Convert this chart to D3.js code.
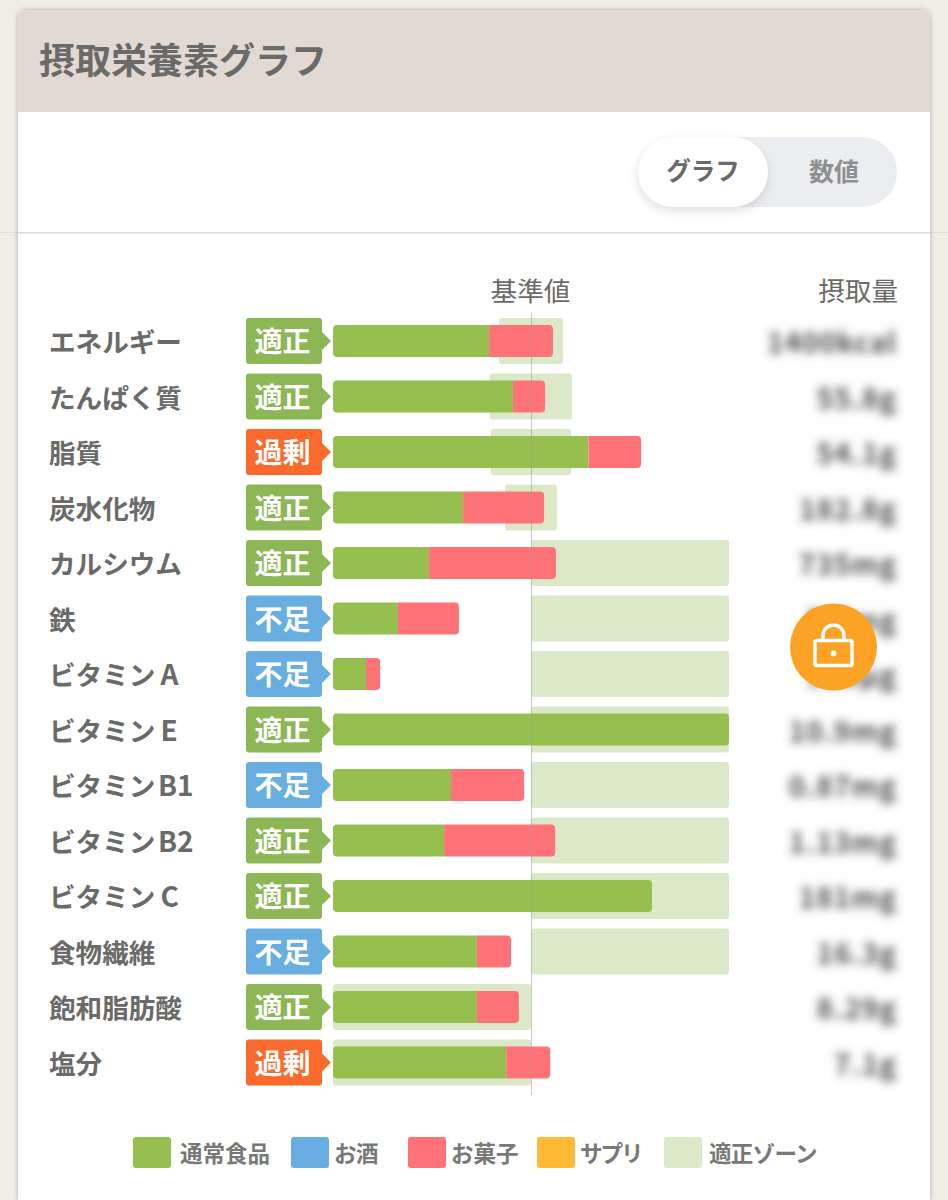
<!DOCTYPE html>
<html lang="ja"><head><meta charset="utf-8">
<script src="https://cdn.jsdelivr.net/npm/d3@7/dist/d3.min.js"></script>
<style>
html,body{margin:0;padding:0;background:#f0ede5;width:948px;height:1200px;overflow:hidden}
svg{display:block}
text{font-family:"Noto Sans CJK JP","Noto Sans",sans-serif}
</style></head><body><div id="chart"></div>
<script>
const nutrients=["エネルギー","たんぱく質","脂質","炭水化物","カルシウム","鉄","ビタミンA","ビタミンE","ビタミンB1","ビタミンB2","ビタミンC","食物繊維","飽和脂肪酸","塩分"];
const statuses=["適正","適正","過剰","適正","適正","不足","不足","適正","不足","適正","適正","不足","適正","過剰"];
const normalFood=[78.8,90.9,129.0,65.7,48.5,32.8,16.7,200,59.6,56.1,161.1,72.7,72.7,87.5];
const snacks=[32.3,16.2,26.6,40.9,64.1,30.8,7.1,0,36.9,56.1,0,17.2,21.2,22.2];
const zoneStart=[83.8,79.2,79.7,86.9,100,100,100,100,100,100,100,100,0,0];
const zoneEnd=[116.2,120.7,120.2,113.1,200,200,200,200,200,200,200,200,100,100];
const intake=["1400kcal","55.8g","54.1g","182.8g","735mg","5.2mg","340μg","10.9mg","0.87mg","1.13mg","181mg","16.3g","8.29g","7.1g"];
const legendLabels=["通常食品","お酒","お菓子","サプリ","適正ゾーン"];
const legendColors=["#95bf4f","#68aee0","#ff7378","#ffb935","#dce9c9"];
const statusColors={"適正":"#8db654","過剰":"#fa6a2c","不足":"#68aee0"};

const W=948,H=1200;
const svg=d3.select("#chart").append("svg").attr("width",W).attr("height",H);
const defs=svg.append("defs");
defs.append("filter").attr("id","blur").attr("x","-20%").attr("y","-60%").attr("width","140%").attr("height","220%")
  .append("feGaussianBlur").attr("stdDeviation",4.8);
const sh=defs.append("filter").attr("id","cardShadow").attr("x","-5%").attr("y","-5%").attr("width","110%").attr("height","110%");
sh.append("feDropShadow").attr("dx",0).attr("dy",0).attr("stdDeviation",2.5).attr("flood-color","#000").attr("flood-opacity",.28);
const ps=defs.append("filter").attr("id","pillShadow").attr("x","-20%").attr("y","-30%").attr("width","140%").attr("height","170%");
ps.append("feDropShadow").attr("dx",0).attr("dy",4).attr("stdDeviation",5).attr("flood-color","#000").attr("flood-opacity",.13);

const ink="#6a6a68";
// page divider, card, header
svg.append("rect").attr("x",0).attr("y",232).attr("width",W).attr("height",1).attr("fill","#e2e0da");
svg.append("path").attr("d","M18,1200V18a8,8 0 0 1 8,-8H922a8,8 0 0 1 8,8V1200Z").attr("fill","#fff").attr("filter","url(#cardShadow)");
svg.append("path").attr("d","M18,112V18a8,8 0 0 1 8,-8H922a8,8 0 0 1 8,8V112Z").attr("fill","#e3d9d3");
svg.append("rect").attr("x",18).attr("y",232).attr("width",912).attr("height",1.5).attr("fill","#dcdcdc");
svg.append("text").attr("x",39).attr("y",74).attr("font-size",36).attr("font-weight",700).attr("fill",ink).text("摂取栄養素グラフ");

// toggle
svg.append("rect").attr("x",638).attr("y",137).attr("width",259).attr("height",70).attr("rx",35).attr("fill","#ecedf0");
svg.append("rect").attr("x",638).attr("y",137).attr("width",130).attr("height",70).attr("rx",35).attr("fill","#fff").attr("filter","url(#pillShadow)");
svg.append("text").attr("x",703).attr("y",180).attr("text-anchor","middle").attr("font-size",24.5).attr("font-weight",700).attr("fill",ink).text("グラフ");
svg.append("text").attr("x",834).attr("y",181).attr("text-anchor","middle").attr("font-size",25).attr("font-weight",700).attr("fill","#8f8f91").text("数値");

// column headings
svg.append("text").attr("x",530.5).attr("y",301).attr("text-anchor","middle").attr("font-size",26.6).attr("fill",ink).text("基準値");
svg.append("text").attr("x",898).attr("y",301).attr("text-anchor","end").attr("font-size",26.6).attr("fill",ink).text("摂取量");

// scales
const x=d3.scaleLinear().domain([0,200]).range([333,729]);
const y=d3.scalePoint().domain(nutrients).range([341,1062.5]);
const barH=32,zoneH=46;

const row=svg.selectAll("g.row").data(nutrients.map((n,i)=>({n,i}))).join("g").attr("class","row")
  .attr("transform",d=>`translate(0,${y(d.n)})`);

// nutrient names: the Latin suffix is set wider, as in the reference
const label=row.append("text").attr("x",49).attr("y",11).attr("font-size",26.6).attr("font-weight",700).attr("fill",ink);
label.append("tspan").text(d=>d.n.replace(/[A-Z0-9]+$/,""));
label.append("tspan").attr("dx",d=>/[A-Z]\d$/.test(d.n)?2.5:5).attr("font-size",28).text(d=>(d.n.match(/[A-Z0-9]+$/)||[""])[0]);

// status badges
row.append("path").attr("fill",d=>statusColors[statuses[d.i]])
  .attr("d","M249,-23H319a3,3 0 0 1 3,3V-9L331,0L322,9V20a3,3 0 0 1 -3,3H249a3,3 0 0 1 -3,-3V-20a3,3 0 0 1 3,-3Z");
row.append("text").attr("x",282.5).attr("y",11).attr("text-anchor","middle").attr("font-size",28).attr("font-weight",700).attr("fill","#fff").text(d=>statuses[d.i]);

// appropriate zone
row.append("rect").attr("x",d=>x(zoneStart[d.i])).attr("y",-zoneH/2).attr("width",d=>x(zoneEnd[d.i])-x(zoneStart[d.i])).attr("height",zoneH).attr("rx",3).attr("fill",legendColors[4]);

// stacked bars
const r=4;
function seg(x0,x1,left,right){
  const h=barH/2, rl=left?r:0, rr=right?r:0;
  return `M${x0+rl},${-h}H${x1-rr}`+(rr?`a${r},${r} 0 0 1 ${r},${r}`:"")+`V${h-rr}`+(rr?`a${r},${r} 0 0 1 ${-r},${r}`:"")+`H${x0+rl}`+(rl?`a${r},${r} 0 0 1 ${-r},${-r}`:"")+`V${-h+rl}`+(rl?`a${r},${r} 0 0 1 ${r},${-r}`:"")+"Z";
}
row.append("path").attr("fill",legendColors[0]).attr("d",d=>seg(x(0),x(normalFood[d.i]),true,snacks[d.i]===0));
row.filter(d=>snacks[d.i]>0).append("path").attr("fill",legendColors[2])
  .attr("d",d=>seg(x(normalFood[d.i]),x(normalFood[d.i]+snacks[d.i]),false,true));

// blurred intake values
row.append("text").attr("x",897).attr("y",12).attr("text-anchor","end").attr("font-size",28).attr("letter-spacing",1).attr("font-weight",700).attr("fill","#4d4d4d").attr("filter","url(#blur)").text(d=>intake[d.i]);

// baseline
svg.append("line").attr("x1",x(100)+.5).attr("x2",x(100)+.5).attr("y1",313).attr("y2",1095).attr("stroke","#9a9a9a").attr("stroke-opacity",.55).attr("stroke-width",1);

// legend
const legX=[133,291,408,537,664],legT=[180,334,451,580,709],legSp=[0,-.5,0,-2,-.7];
const leg=svg.selectAll("g.leg").data(legendLabels).join("g").attr("class","leg");
leg.append("rect").attr("x",(d,i)=>legX[i]).attr("y",1137).attr("width",38).attr("height",31).attr("rx",3).attr("fill",(d,i)=>legendColors[i]);
leg.append("text").attr("x",(d,i)=>legT[i]).attr("y",1162).attr("font-size",22.5).attr("font-weight",700).attr("letter-spacing",(d,i)=>legSp[i]).attr("fill","#787876").text(d=>d);

// lock button
const lock=svg.append("g").attr("transform","translate(833.5,647)");
lock.append("circle").attr("r",43.5).attr("fill","#fca326");
lock.append("rect").attr("x",-18.5).attr("y",-6.5).attr("width",37).attr("height",25).attr("rx",1.5).attr("fill","none").attr("stroke","#fff").attr("stroke-width",3.4);
lock.append("path").attr("d","M-10.5,-6.5V-11.5a10.5,10.5 0 0 1 21,0V-6.5").attr("fill","none").attr("stroke","#fff").attr("stroke-width",3.4);
lock.append("circle").attr("cy",6.5).attr("r",3).attr("fill","#fff");
</script></body></html>
